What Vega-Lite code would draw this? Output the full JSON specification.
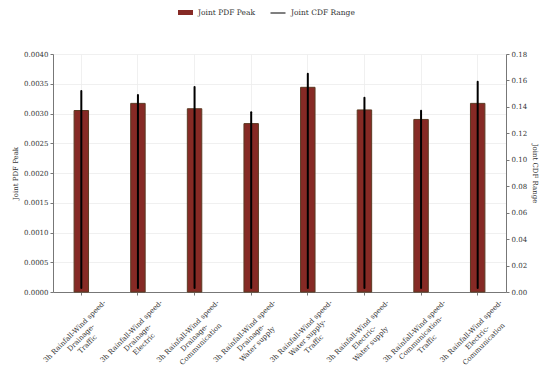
{
  "$schema": "https://vega.github.io/schema/vega-lite/v6.json",
  "width": 453,
  "height": 238,
  "autosize": {"type": "none"},
  "padding": {"left": 53, "top": 54, "right": 44, "bottom": 84},
  "background": "white",
  "config": {
    "font": "DejaVu Serif",
    "view": {"stroke": null},
    "axis": {
      "labelFont": "DejaVu Serif",
      "titleFont": "DejaVu Serif",
      "labelFontSize": 7,
      "titleFontSize": 7,
      "titleFontWeight": "normal",
      "labelColor": "#333333",
      "titleColor": "#333333",
      "domainColor": "#777777",
      "tickColor": "#777777",
      "tickSize": 3,
      "gridColor": "#ececec",
      "gridWidth": 0.8
    },
    "legend": {"labelFont": "DejaVu Serif", "labelFontSize": 7.5, "labelColor": "#333333"}
  },
  "data": {
    "values": [
      {"pair": "3h Rainfall-Wind speed-|Drainage-|Traffic", "pdf": 0.00305, "cdf_low": 0.003, "cdf_high": 0.152},
      {"pair": "3h Rainfall-Wind speed-|Drainage-|Electric", "pdf": 0.00317, "cdf_low": 0.003, "cdf_high": 0.149},
      {"pair": "3h Rainfall-Wind speed-|Drainage-|Communication", "pdf": 0.00308, "cdf_low": 0.003, "cdf_high": 0.155},
      {"pair": "3h Rainfall-Wind speed-|Drainage-|Water supply", "pdf": 0.00283, "cdf_low": 0.003, "cdf_high": 0.136},
      {"pair": "3h Rainfall-Wind speed-|Water supply-|Traffic", "pdf": 0.00344, "cdf_low": 0.003, "cdf_high": 0.165},
      {"pair": "3h Rainfall-Wind speed-|Electric-|Water supply", "pdf": 0.00306, "cdf_low": 0.003, "cdf_high": 0.147},
      {"pair": "3h Rainfall-Wind speed-|Communication-|Traffic", "pdf": 0.0029, "cdf_low": 0.003, "cdf_high": 0.137},
      {"pair": "3h Rainfall-Wind speed-|Electric-|Communication", "pdf": 0.00317, "cdf_low": 0.003, "cdf_high": 0.159}
    ]
  },
  "encoding": {
    "x": {
      "field": "pair",
      "type": "nominal",
      "sort": null,
      "scale": {"paddingInner": 0.745, "paddingOuter": 0.3725},
      "axis": {
        "title": null,
        "labelAngle": -45,
        "labelAlign": "center",
        "labelBaseline": "middle",
        "labelPadding": 36,
        "labelOffset": -6.5,
        "labelLineHeight": 9,
        "labelExpr": "split(datum.label, '|')",
        "bandPosition": 0.5,
        "grid": true,
        "ticks": true,
        "labelFontSize": 7
      }
    }
  },
  "layer": [
    {
      "mark": {"type": "bar", "stroke": "#5b3a22", "strokeWidth": 1},
      "encoding": {
        "y": {
          "field": "pdf",
          "type": "quantitative",
          "scale": {"domain": [0, 0.004], "nice": false},
          "axis": {
            "title": "Joint PDF Peak",
            "orient": "left",
            "values": [0, 0.0005, 0.001, 0.0015, 0.002, 0.0025, 0.003, 0.0035, 0.004],
            "format": ".4f",
            "titlePadding": 5,
            "grid": true
          }
        },
        "fill": {
          "datum": "Joint PDF Peak",
          "type": "nominal",
          "scale": {"domain": ["Joint PDF Peak"], "range": ["#862a25"]},
          "legend": {
            "title": null,
            "orient": "none",
            "legendX": 125,
            "legendY": -49,
            "symbolType": "M-1,-0.33H1V0.33H-1Z",
            "symbolSize": 225,
            "symbolFillColor": "#9b2226",
            "symbolStrokeWidth": 0,
            "labelOffset": 5
          }
        }
      }
    },
    {
      "mark": {"type": "rule", "strokeWidth": 2, "strokeCap": "round"},
      "encoding": {
        "y": {
          "field": "cdf_low",
          "type": "quantitative",
          "scale": {"domain": [0, 0.18], "nice": false},
          "axis": {
            "title": "Joint CDF Range",
            "orient": "right",
            "values": [0, 0.02, 0.04, 0.06, 0.08, 0.1, 0.12, 0.14, 0.16, 0.18],
            "format": ".2f",
            "titlePadding": 5,
            "grid": false
          }
        },
        "y2": {"field": "cdf_high"},
        "stroke": {
          "datum": "Joint CDF Range",
          "type": "nominal",
          "scale": {"domain": ["Joint CDF Range"], "range": ["#000000"]},
          "legend": {
            "title": null,
            "orient": "none",
            "legendX": 217,
            "legendY": -49,
            "symbolType": "stroke",
            "symbolSize": 225,
            "symbolStrokeWidth": 1,
            "symbolStrokeColor": "#333333",
            "labelOffset": 5
          }
        }
      }
    }
  ],
  "resolve": {"scale": {"y": "independent"}}
}
